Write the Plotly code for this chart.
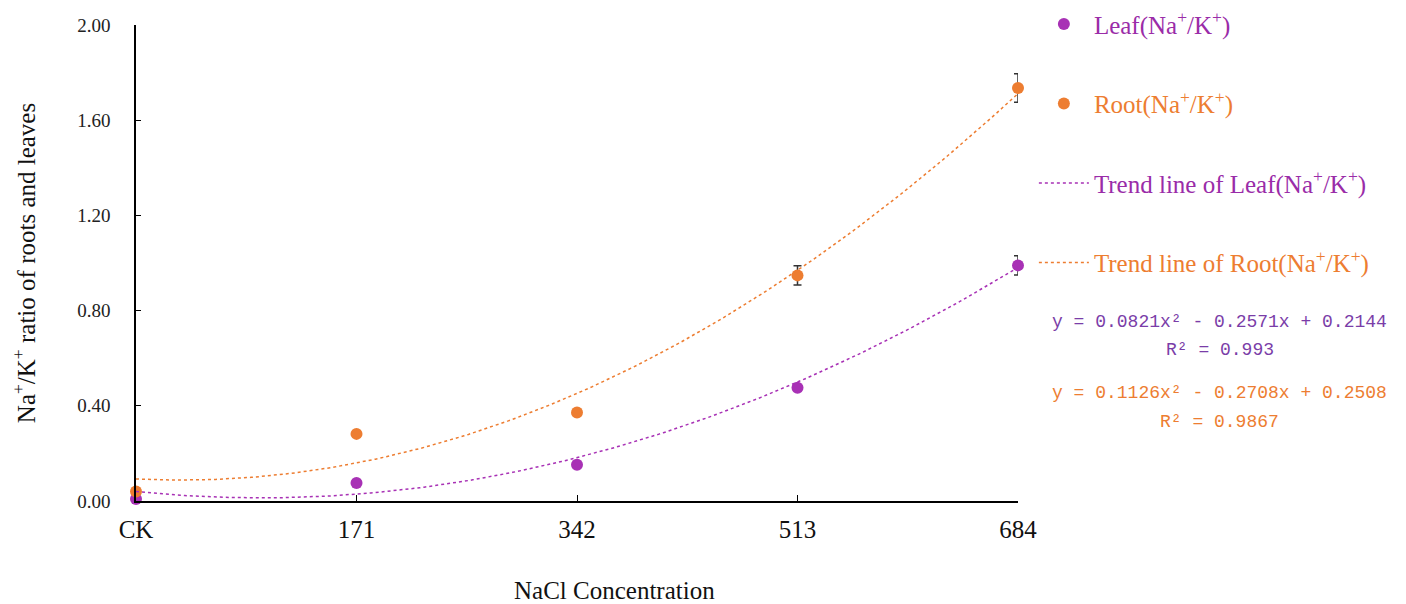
import numpy as np
import plotly.graph_objects as go

categories = ["CK", "171", "342", "513", "684"]
x_pos = [1, 2, 3, 4, 5]
leaf_vals = [0.008, 0.076, 0.152, 0.476, 0.990]
leaf_err = [0.0, 0.0, 0.0, 0.0, 0.04]
root_vals = [0.040, 0.282, 0.372, 0.948, 1.735]
root_err = [0.0, 0.0, 0.0, 0.04, 0.06]
leaf_coef = [0.0821, -0.2571, 0.2144]
root_coef = [0.1126, -0.2708, 0.2508]
leaf_r2 = "0.993"
root_r2 = "0.9867"
y_ticks = [0.0, 0.4, 0.8, 1.2, 1.6, 2.0]

LEAF = "#A831B5"
ROOT = "#ED7D31"
LEAF_TXT = "#9A2CA8"
EQ_LEAF = "#7A3DA8"
SERIF = "Liberation Serif"

xs = np.linspace(1, 5, 200)
leaf_trend = np.polyval(leaf_coef, xs)
root_trend = np.polyval(root_coef, xs)

fig = go.Figure()
fig.add_trace(go.Scatter(
    x=x_pos, y=leaf_vals, mode="markers",
    marker=dict(color=LEAF, size=12),
    error_y=dict(type="data", array=leaf_err, color="#333333", thickness=1.5, width=4),
    name="<span style='color:%s'>Leaf(Na<sup>+</sup>/K<sup>+</sup>)</span>" % LEAF_TXT,
    legendgroup="a", cliponaxis=False))
fig.add_trace(go.Scatter(
    x=x_pos, y=root_vals, mode="markers",
    marker=dict(color=ROOT, size=12),
    error_y=dict(type="data", array=root_err, color="#333333", thickness=1.5, width=4),
    name="<span style='color:%s'>Root(Na<sup>+</sup>/K<sup>+</sup>)</span>" % ROOT,
    legendgroup="b", cliponaxis=False))
fig.add_trace(go.Scatter(
    x=xs, y=leaf_trend, mode="lines",
    line=dict(color=LEAF, width=1.5, dash="dot"),
    name="<span style='color:%s'>Trend line of Leaf(Na<sup>+</sup>/K<sup>+</sup>)</span>" % LEAF_TXT,
    legendgroup="c", cliponaxis=False))
fig.add_trace(go.Scatter(
    x=xs, y=root_trend, mode="lines",
    line=dict(color=ROOT, width=1.5, dash="dot"),
    name="<span style='color:%s'>Trend line of Root(Na<sup>+</sup>/K<sup>+</sup>)</span>" % ROOT,
    legendgroup="d", cliponaxis=False))

def eq_text(c):
    return "y = %.4fx² - %.4fx + %.4f" % (c[0], -c[1], c[2])

eq_lines = [
    (eq_text(leaf_coef), 0.376, EQ_LEAF),
    ("R² = " + leaf_r2, 0.317, EQ_LEAF),
    (eq_text(root_coef), 0.227, ROOT),
    ("R² = " + root_r2, 0.166, ROOT),
]
for txt, yy, col in eq_lines:
    fig.add_annotation(xref="paper", yref="paper", x=1.229, y=yy,
                       xanchor="center", yanchor="middle",
                       text=txt, showarrow=False,
                       font=dict(family="Liberation Mono", size=18, color=col))

fig.add_annotation(xref="paper", yref="paper", x=0.542, y=-0.187,
                   xanchor="center", yanchor="middle",
                   text="NaCl Concentration", showarrow=False,
                   font=dict(family=SERIF, size=25, color="#111111"))

fig.update_layout(
    width=1398, height=596,
    margin=dict(l=128, r=388, t=17, b=103, autoexpand=False),
    paper_bgcolor="white", plot_bgcolor="white",
    font=dict(family=SERIF, size=16, color="#222222"),
    showlegend=True,
    legend=dict(x=1.018, y=1.05, xanchor="left", yanchor="top",
                font=dict(family=SERIF, size=25),
                tracegroupgap=44, itemwidth=50, bgcolor="rgba(0,0,0,0)"),
    xaxis=dict(range=[1, 5], tickvals=x_pos, ticktext=categories,
               showgrid=False, zeroline=False, showline=True,
               linecolor="black", linewidth=1.5,
               ticks="inside", ticklen=6, tickcolor="black",
               ticklabelstandoff=5, automargin=False,
               tickfont=dict(family=SERIF, size=25, color="#111111")),
    yaxis=dict(range=[0, 2], tickvals=y_ticks, tickformat=".2f",
               showgrid=False, zeroline=False, showline=True,
               linecolor="black", linewidth=1.5,
               ticks="inside", ticklen=5, tickcolor="black",
               ticklabelstandoff=20, automargin=False,
               tickfont=dict(family=SERIF, size=19, color="#222222"),
               title=dict(text="Na<sup>+</sup>/K<sup>+</sup> ratio of roots and leaves",
                          font=dict(family=SERIF, size=25, color="#111111"),
                          standoff=45)),
)

fig.write_html("out.html")
